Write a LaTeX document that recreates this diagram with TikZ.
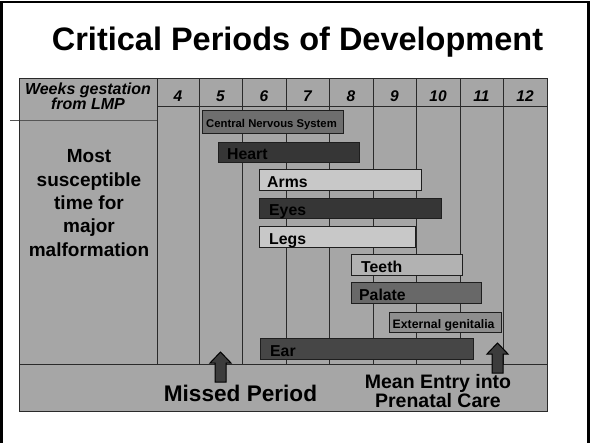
\documentclass[tikz,border=0pt]{standalone}
\usepackage{fontspec}
\setmainfont{Liberation Sans}
\definecolor{tablegray}{HTML}{A6A6A6}
\definecolor{gridc}{HTML}{2A2A2A}
\definecolor{barline}{HTML}{1E1E1E}
\definecolor{darkc}{HTML}{363636}
\definecolor{earc}{HTML}{464646}
\definecolor{cnsc}{HTML}{6E6E6E}
\definecolor{palatec}{HTML}{686868}
\definecolor{lightc}{HTML}{C8C8C8}
\definecolor{teethc}{HTML}{B2B2B2}
\definecolor{genc}{HTML}{8E8E8E}
\definecolor{arrowc}{HTML}{3C3C3C}
\definecolor{sidec}{HTML}{555555}
\begin{document}
\begin{tikzpicture}[x=1pt,y=-1pt,
  grid/.style={draw=gridc, line width=1pt},
  barbox/.style={draw=barline, line width=1pt, anchor=north west, inner sep=0pt},
  bartext/.style={anchor=west, inner sep=0pt, text=black, font=\bfseries\fontsize{15.8}{15.8}\selectfont, text height=11.4pt, text depth=0pt, yshift=-1.5pt},
  smalltext/.style={bartext, font=\bfseries\fontsize{11.3}{11.3}\selectfont, text height=8.1pt},
  colnum/.style={anchor=base, inner sep=0pt, font=\bfseries\itshape\fontsize{15.5}{15.5}\selectfont},
  blockarrow/.style={draw=black, line width=1pt, fill=arrowc, line join=miter}]
\useasboundingbox (0,0) rectangle (592,442);
% outer frame
\draw[line width=2.8pt] (1.4,450) -- (1.4,2) -- (588.5,2) -- (588.5,450);
% table body
\fill[tablegray] (19,78) rectangle (547,364);
\foreach \x in {157,199,242,286,329,373,416,460,503}
  \draw[grid] (\x,78) -- (\x,364);
\draw[grid] (157,106) -- (547,106);
\draw[grid, draw=sidec] (10,120) -- (157,120);
\draw[grid] (19,78) rectangle (547,364);
% column numbers
\foreach \n/\x in {4/178,5/220.5,6/264,7/307.5,8/351,9/394.5,10/438,11/481.5,12/525}
  \node[colnum] (c\n) at (\x,101.5) {\n};
% header and side texts
\node[anchor=north, align=center, inner sep=0pt, font=\bfseries\itshape\fontsize{16}{15.3}\selectfont] (weeks) at (88,82.5) {Weeks gestation\\from LMP};
\node[anchor=north, align=center, inner sep=0pt, font=\bfseries\fontsize{19}{23.3}\selectfont] (most) at (89,149.7) {Most\\susceptible\\time for\\major\\malformation};
% bars
\node[barbox, fill=cnsc, minimum width=141pt, minimum height=23pt] (cns) at (202,110) {};
\node[smalltext] (cnsT) at ([xshift=4pt]cns.west) {Central Nervous System};
\node[barbox, fill=darkc, minimum width=141pt, minimum height=20pt] (heart) at (218,142) {};
\node[bartext] (heartT) at ([xshift=9pt]heart.west) {Heart};
\node[barbox, fill=lightc, minimum width=162pt, minimum height=21pt] (arms) at (259,169) {};
\node[bartext] (armsT) at ([xshift=8pt]arms.west) {Arms};
\node[barbox, fill=darkc, minimum width=182pt, minimum height=20pt] (eyes) at (259,198) {};
\node[bartext] (eyesT) at ([xshift=10pt]eyes.west) {Eyes};
\node[barbox, fill=lightc, minimum width=156pt, minimum height=21pt] (legs) at (259,226) {};
\node[bartext] (legsT) at ([xshift=10pt]legs.west) {Legs};
\node[barbox, fill=teethc, minimum width=111pt, minimum height=21pt] (teeth) at (351,254) {};
\node[bartext] (teethT) at ([xshift=10pt]teeth.west) {Teeth};
\node[barbox, fill=palatec, minimum width=130pt, minimum height=21pt] (palate) at (351,282) {};
\node[bartext] (palateT) at ([xshift=8pt]palate.west) {Palate};
\node[barbox, fill=genc, minimum width=112pt, minimum height=20pt] (gen) at (389,312) {};
\node[smalltext, font=\bfseries\fontsize{12.3}{12.3}\selectfont, text height=8.8pt] (genT) at ([xshift=3.5pt]gen.west) {External genitalia};
\node[barbox, fill=earc, minimum width=213pt, minimum height=21pt] (ear) at (260,338) {};
\node[bartext] (earT) at ([xshift=10pt]ear.west) {Ear};
% bottom row
\draw[grid, fill=tablegray] (19,364) rectangle (547,411);
\draw[gridc, line width=1pt] (19,411.8) -- (547.5,411.8);
% arrows
\draw[blockarrow] (220.5,352) -- (231,363) -- (226,363) -- (226,382) -- (215,382) -- (215,363) -- (210,363) -- cycle;
\draw[blockarrow] (497.5,343) -- (508,354) -- (503,354) -- (503,373) -- (492,373) -- (492,354) -- (487,354) -- cycle;
% bottom texts
\node[anchor=base, inner sep=0pt, font=\bfseries\fontsize{22.6}{22.6}\selectfont] (missed) at (240.5,401.7) {Missed Period};
\node[anchor=north, align=center, inner sep=0pt, font=\bfseries\fontsize{19.5}{19}\selectfont] (entry) at (438,373.8) {Mean Entry into\\Prenatal Care};
% title
\node[anchor=base, inner sep=0pt, font=\bfseries\fontsize{32.5}{32.5}\selectfont] (title) at (297.5,50.5) {Critical Periods of Development};
\end{tikzpicture}
\end{document}
